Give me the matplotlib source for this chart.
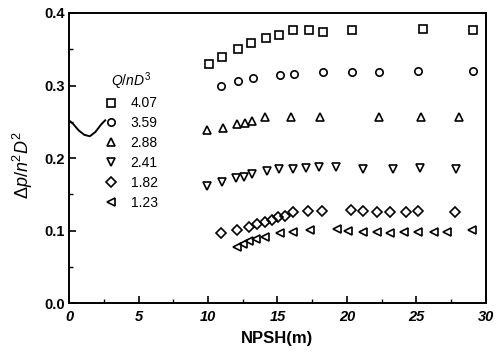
import matplotlib
matplotlib.use('Agg')
import matplotlib.pyplot as plt
from matplotlib.ticker import MultipleLocator

# --- DATOS ---
flow_labels = ['4.07', '3.59', '2.88', '2.41', '1.82', '1.23']
markers = ['s', 'o', '^', 'v', 'D', '<']

npsh_407 = [10.07, 11.0, 12.18, 13.09, 14.17, 15.13, 16.14, 17.24, 18.25, 20.36, 25.44, 29.04]
head_407 = [0.330, 0.339, 0.350, 0.358, 0.365, 0.370, 0.376, 0.376, 0.374, 0.376, 0.378, 0.377]

npsh_359 = [10.91, 12.14, 13.21, 15.18, 16.18, 18.25, 20.36, 22.28, 25.13, 29.09]
head_359 = [0.299, 0.306, 0.310, 0.314, 0.316, 0.319, 0.319, 0.319, 0.320, 0.320]

npsh_288 = [9.9, 11.06, 12.11, 12.66, 13.19, 14.1, 16.0, 18.06, 22.28, 25.3, 28.08]
head_288 = [0.238, 0.242, 0.247, 0.249, 0.251, 0.256, 0.256, 0.256, 0.257, 0.257, 0.257]

npsh_241 = [9.9, 11.0, 11.99, 12.59, 13.14, 14.22, 15.13, 16.14, 17.05, 18.01, 19.2,
            21.17, 23.33, 25.25, 27.84]
head_241 = [0.161, 0.167, 0.172, 0.174, 0.178, 0.182, 0.185, 0.185, 0.186, 0.187, 0.187,
            0.185, 0.185, 0.186, 0.185]

npsh_182 = [10.96, 12.11, 12.93, 13.55, 14.1, 14.58, 15.06, 15.54, 16.14, 17.17, 18.18,
            20.27, 21.17, 22.18, 23.09, 24.24, 25.13, 27.77]
head_182 = [0.096, 0.101, 0.105, 0.109, 0.112, 0.115, 0.119, 0.120, 0.125, 0.127, 0.127,
            0.128, 0.127, 0.126, 0.126, 0.126, 0.127, 0.126]

npsh_123 = [12.11, 12.54, 12.97, 13.45, 14.1, 15.18, 16.14, 17.34, 19.3, 20.09, 21.17,
            22.18, 23.09, 24.1, 25.13, 26.26, 27.17, 28.97]
head_123 = [0.078, 0.082, 0.086, 0.088, 0.091, 0.096, 0.098, 0.101, 0.102, 0.100, 0.098,
            0.098, 0.097, 0.098, 0.098, 0.098, 0.098, 0.101]

# Trazo suelto cerca del eje y (aparece en la figura original)
curve_x = [0.0, 0.3, 0.7, 1.1, 1.5, 1.9, 2.3, 2.6]
curve_y = [0.252, 0.247, 0.238, 0.232, 0.230, 0.236, 0.246, 0.252]

series_x = [npsh_407, npsh_359, npsh_288, npsh_241, npsh_182, npsh_123]
series_y = [head_407, head_359, head_288, head_241, head_182, head_123]

# --- ESTILO ---
plt.rcParams['font.family'] = ['Liberation Sans', 'DejaVu Sans']
plt.rcParams['mathtext.fontset'] = 'custom'
plt.rcParams['mathtext.rm'] = 'Liberation Sans'
plt.rcParams['mathtext.it'] = 'Liberation Sans:italic'
plt.rcParams['mathtext.bf'] = 'Liberation Sans:bold'

fig = plt.figure(figsize=(5.02, 3.57), dpi=100)
ax = fig.add_axes([0.1375, 0.151, 0.8305, 0.8126])

ax.plot(curve_x, curve_y, color='black', linewidth=1.4)

handles = []
for xs, ys, m, lab in zip(series_x, series_y, markers, flow_labels):
    ms = 4.6 if m == 'D' else 5.3
    h, = ax.plot(xs, ys, linestyle='none', marker=m, markersize=ms,
                 markerfacecolor='none', markeredgecolor='black',
                 markeredgewidth=1.2, label=lab)
    handles.append(h)

ax.set_xlim(0, 30)
ax.set_ylim(0, 0.4)
ax.xaxis.set_major_locator(MultipleLocator(5))
ax.xaxis.set_minor_locator(MultipleLocator(2.5))
ax.yaxis.set_major_locator(MultipleLocator(0.1))
ax.yaxis.set_minor_locator(MultipleLocator(0.05))
ax.yaxis.set_major_formatter(plt.FormatStrFormatter('%.1f'))

# Ticks hacia adentro, solo abajo e izquierda
ax.tick_params(which='both', direction='in', top=False, right=False)
ax.tick_params(which='major', length=5, width=1.2)
ax.tick_params(which='minor', length=3, width=1.0)
ax.tick_params(axis='y', labelsize=10.5, pad=3)
ax.tick_params(axis='x', labelsize=10.5, pad=5)
for t in ax.get_yticklabels():
    t.set_fontweight('bold')
for t in ax.get_xticklabels():
    t.set_fontweight('bold')
    t.set_fontstyle('italic')

for s in ax.spines.values():
    s.set_linewidth(1.4)

ax.set_xlabel('NPSH(m)', fontsize=12, fontweight='bold', labelpad=5)
ax.set_ylabel(r'$\Delta p/n^2D^2$', fontsize=13)
ax.yaxis.set_label_coords(-0.082, 0.475)

leg = ax.legend(handles=handles, title=r'$Q/nD^3$', loc='upper left',
                bbox_to_anchor=(0.068, 0.825), frameon=False, fontsize=10,
                title_fontsize=10, borderpad=0, handlelength=1.0,
                handletextpad=0.9, labelspacing=0.42)
leg._legend_box.sep = 3

fig.savefig('out.png', dpi=100)
plt.close(fig)
